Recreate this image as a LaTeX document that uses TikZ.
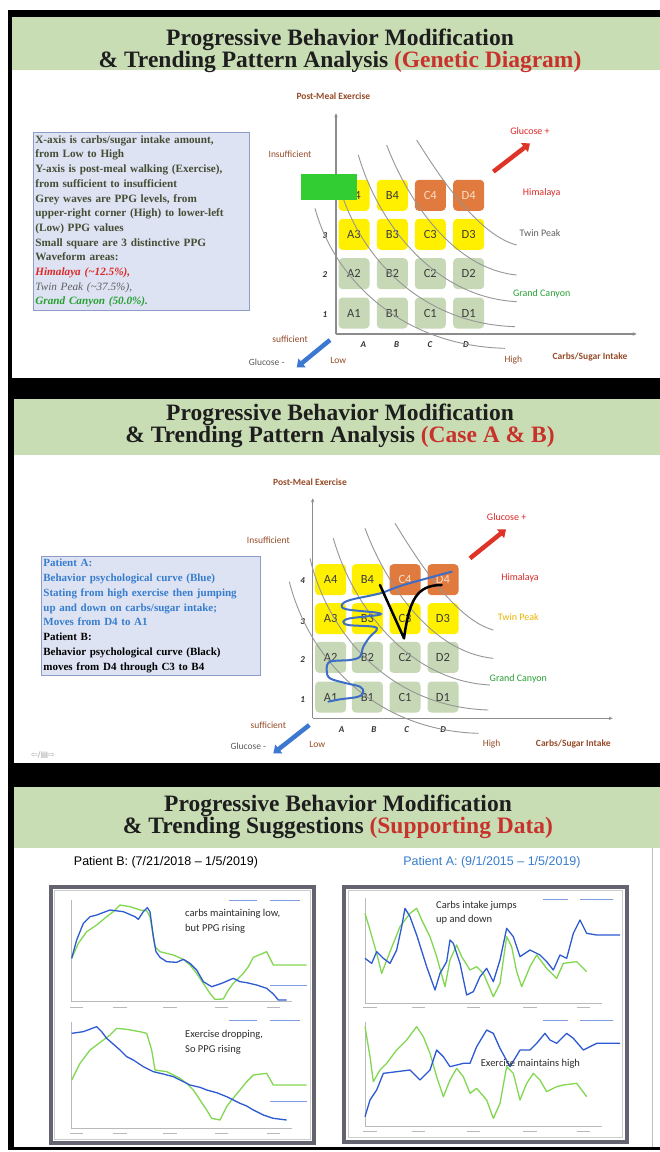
\documentclass[tikz,border=0pt]{standalone}
\usepackage{fontspec}
\setmainfont{Liberation Serif}
\newfontfamily\carl{Carlito}
\newfontfamily\arial{Liberation Sans}
\newfontfamily\dejavu{DejaVu Sans}
\usetikzlibrary{arrows.meta}
\definecolor{hdrgreen}{RGB}{201,221,181}
\definecolor{titlered}{RGB}{200,50,45}
\definecolor{titledark}{RGB}{30,30,30}
\definecolor{boxfill}{RGB}{221,227,243}
\definecolor{boxborder}{RGB}{140,158,200}
\definecolor{boxtext}{RGB}{68,78,52}
\definecolor{cellyellow}{RGB}{255,240,0}
\definecolor{cellorange}{RGB}{224,122,62}
\definecolor{cellgreen}{RGB}{199,216,182}
\definecolor{celltext}{RGB}{60,60,60}
\definecolor{orgtext}{RGB}{250,222,200}
\definecolor{wavegrey}{RGB}{150,150,150}
\definecolor{axisgrey}{RGB}{140,140,140}
\definecolor{brownlbl}{RGB}{150,75,40}
\definecolor{tickdark}{RGB}{50,50,50}
\definecolor{arrblue}{RGB}{60,120,210}
\definecolor{arrred}{RGB}{222,52,40}
\definecolor{himred}{RGB}{220,40,40}
\definecolor{twingrey}{RGB}{95,95,95}
\definecolor{twinyellow}{RGB}{232,180,0}
\definecolor{canyongreen}{RGB}{40,160,50}
\definecolor{brightgreen}{RGB}{50,205,50}
\definecolor{patblue}{RGB}{55,125,205}
\definecolor{squiggle}{RGB}{60,110,200}
\definecolor{chartblue}{RGB}{45,90,210}
\definecolor{chartgreen}{RGB}{130,215,80}
\definecolor{chaxisgrey}{RGB}{185,185,185}
\definecolor{framegrey}{RGB}{100,100,112}
\definecolor{notegrey}{RGB}{45,45,45}
\tikzset{
  cell/.style={rounded corners=4pt, minimum width=31pt, minimum height=31pt, inner sep=0pt, font=\carl\fontsize{12.5}{12.5}\selectfont, text=celltext},
  ylw/.style={cell, fill=cellyellow},
  org/.style={cell, fill=cellorange, text=orgtext},
  grn/.style={cell, fill=cellgreen},
  wave/.style={draw=wavegrey, line width=0.9pt},
  axisline/.style={draw=axisgrey, line width=1.3pt, -{Stealth[length=4pt,width=3.5pt]}},
  bigarrow/.style={line width=4.5pt, -{Triangle[length=7pt,width=11pt]}},
  axlbl/.style={font=\carl\bfseries\fontsize{9.5}{10}\selectfont, text=brownlbl},
  sidelbl/.style={font=\carl\fontsize{9.5}{10}\selectfont, text=brownlbl},
  tickl/.style={font=\carl\bfseries\itshape\fontsize{9}{9}\selectfont, text=tickdark},
  zone/.style={font=\carl\fontsize{10}{10}\selectfont},
  ttl/.style={align=center, font=\bfseries\fontsize{23.5}{22}\selectfont, text=titledark},
  cblue/.style={draw=chartblue, line width=1.3pt, line join=round},
  cgreen/.style={draw=chartgreen, line width=1.3pt, line join=round},
  chaxis/.style={draw=chaxisgrey, line width=0.6pt},
  ticktxt/.style={draw=chaxisgrey, line width=1.2pt},
  legtxt/.style={draw=chartblue!60, line width=1.2pt},
  chnote/.style={font=\carl\fontsize{10.5}{14.5}\selectfont, text=notegrey, align=left, anchor=north west, inner sep=0pt},
  chartframe/.style={draw=framegrey, line width=4pt},
}
\begin{document}
\begin{tikzpicture}[x=1pt,y=-1pt]
\useasboundingbox (0,0) rectangle (660,1152);
\fill[white] (0,0) rectangle (660,1152);
% ---------------- frames ----------------
\fill[black] (8,10) rectangle (660,1150);
\fill[hdrgreen] (12,17) rectangle (660,70);
\fill[white] (12,70) rectangle (660,378);
\fill[hdrgreen] (14,399) rectangle (660,455);
\fill[white] (14,455) rectangle (660,763);
\fill[hdrgreen] (14,787) rectangle (660,848);
\fill[white] (14,848) rectangle (660,1147);
\draw[gray!50, line width=0.6pt] (652,848) -- (652,1147);

% ---------------- titles ----------------
\node[ttl] (t1) at (340,50.5) {Progressive Behavior Modification\\\& Trending Pattern Analysis \textcolor{titlered}{(Genetic Diagram)}};
\node[ttl] (t2) at (340,426) {Progressive Behavior Modification\\\& Trending Pattern Analysis \textcolor{titlered}{(Case A \& B)}};
\node[ttl] (t3) at (338,817) {Progressive Behavior Modification\\\& Trending Suggestions \textcolor{titlered}{(Supporting Data)}};

% ---------------- panel 1 text box ----------------
\node[anchor=north west, draw=boxborder, line width=0.8pt, fill=boxfill, minimum width=216pt, minimum height=178pt, text width=212pt, inner xsep=2pt, inner ysep=1pt, align=left, font=\bfseries\fontsize{11.2}{14.7}\selectfont, text=boxtext] (box1) at (33,132) {%
X-axis is carbs/sugar intake amount,\\
from Low to High\\
Y-axis is post-meal walking (Exercise),\\
from sufficient to insufficient\\
Grey waves are PPG levels, from\\
upper-right corner (High) to lower-left\\
(Low) PPG values\\
Small square are 3 distinctive PPG\\
Waveform areas:\\
\textcolor{himred}{\itshape Himalaya (\textasciitilde 12.5\%),}\\
\textcolor{twingrey}{\mdseries\itshape Twin Peak (\textasciitilde 37.5\%),}\\
\textcolor{canyongreen}{\itshape Grand Canyon (50.0\%).}};

% ---------------- panel 1 chart ----------------
\begin{scope}[shift={(250,80)}, x=0.33333pt, y=-0.33333pt]
  \coordinate (p1o) at (258,762);
  \coordinate (p1yt) at (258,100);
  \coordinate (p1xr) at (1160,762);
  \draw[axisline] (p1o) -- (p1yt);
  \draw[axisline] (p1o) -- (p1xr);
  \node[axlbl] (p1ylab) at (250,50) {Post-Meal Exercise};
  \node[axlbl] (p1xlab) at (1020,832) {Carbs/Sugar Intake};
  \node[sidelbl] (p1ins) at (120,222) {Insufficient};
  \node[sidelbl] (p1suf) at (120,778) {sufficient};
  \node[sidelbl] (p1low) at (265,840) {Low};
  \node[sidelbl] (p1high) at (790,840) {High};
  \node[font=\carl\fontsize{9.5}{10}\selectfont, text=tickdark!80] (p1gm) at (50,848) {Glucose -};
  \node[tickl] (p1ta) at (340,795) {A};
  \node[tickl] (p1tb) at (440,795) {B};
  \node[tickl] (p1tc) at (540,795) {C};
  \node[tickl] (p1td) at (648,795) {D};
  \node[tickl] (p1t1) at (225,705) {1};
  \node[tickl] (p1t2) at (225,585) {2};
  \node[tickl] (p1t3) at (225,468) {3};
  % cells
  \node[ylw] (p1A4) at (312,346) {A4};
  \node[ylw] (p1B4) at (427,346) {B4};
  \node[org] (p1C4) at (541,346) {C4};
  \node[org] (p1D4) at (656,346) {D4};
  \node[ylw] (p1A3) at (312,463) {A3};
  \node[ylw] (p1B3) at (427,463) {B3};
  \node[ylw] (p1C3) at (541,463) {C3};
  \node[ylw] (p1D3) at (656,463) {D3};
  \node[grn] (p1A2) at (312,581) {A2};
  \node[grn] (p1B2) at (427,581) {B2};
  \node[grn] (p1C2) at (541,581) {C2};
  \node[grn] (p1D2) at (656,581) {D2};
  \node[grn] (p1A1) at (312,699) {A1};
  \node[grn] (p1B1) at (427,699) {B1};
  \node[grn] (p1C1) at (541,699) {C1};
  \node[grn] (p1D1) at (656,699) {D1};
  % waves
  \draw[wave] (500,180) .. controls (560,275) and (680,464) .. (800,495);
  \draw[wave] (410,195) .. controls (469,351) and (605,566) .. (800,585);
  \draw[wave] (325,225) .. controls (382,423) and (548,652) .. (800,665);
  \draw[wave] (260,290) .. controls (314,515) and (501,731) .. (795,740);
  \draw[wave] (195,385) .. controls (252,595) and (452,797) .. (765,805);
  % green marker square
  \node[fill=brightgreen, minimum width=56.7pt, minimum height=25.7pt, inner sep=0pt] (p1mark) at (237,321.5) {};
  % zone labels
  \node[zone, text=himred] (p1him) at (875,338) {Himalaya};
  \node[zone, text=twingrey] (p1twin) at (870,458) {Twin Peak};
  \node[zone, text=canyongreen] (p1can) at (875,640) {Grand Canyon};
  \node[zone, text=himred] (p1gp) at (840,152) {Glucose +};
  % big arrows
  \coordinate (p1ra) at (730,275);
  \coordinate (p1rb) at (840,190);
  \draw[bigarrow, arrred] (p1ra) -- (p1rb);
  \coordinate (p1ba) at (240,780);
  \coordinate (p1bb) at (140,862);
  \draw[bigarrow, arrblue] (p1ba) -- (p1bb);
\end{scope}

% ---------------- panel 2 text box ----------------
\node[anchor=north west, draw=boxborder, line width=0.8pt, fill=boxfill, minimum width=219pt, minimum height=119pt, text width=215pt, inner xsep=2pt, inner ysep=1pt, align=left, font=\bfseries\fontsize{11}{14.8}\selectfont, text=patblue] (box2) at (41,556) {%
Patient A:\\
Behavior psychological curve (Blue)\\
Stating from high exercise then jumping\\
up and down on carbs/sugar intake;\\
Moves from D4 to A1\\
\textcolor{black}{Patient B:}\\
\textcolor{black}{Behavior psychological curve (Black)}\\
\textcolor{black}{moves from D4 through C3 to B4}};
\node[font=\dejavu\fontsize{8}{8}\selectfont, text=gray!70] (nav) at (43,755) {⇦/▤⇨};

% ---------------- panel 2 chart ----------------
\begin{scope}[shift={(230,470)}, x=0.33333pt, y=-0.33333pt]
  \coordinate (p2o) at (248,745);
  \coordinate (p2yt) at (248,85);
  \coordinate (p2xr) at (1148,745);
  \draw[axisline] (p2o) -- (p2yt);
  \draw[axisline] (p2o) -- (p2xr);
  \node[axlbl] (p2ylab) at (240,38) {Post-Meal Exercise};
  \node[axlbl] (p2xlab) at (1030,822) {Carbs/Sugar Intake};
  \node[sidelbl] (p2ins) at (115,210) {Insufficient};
  \node[sidelbl] (p2suf) at (115,765) {sufficient};
  \node[sidelbl] (p2low) at (262,822) {Low};
  \node[sidelbl] (p2high) at (785,822) {High};
  \node[font=\carl\fontsize{9.5}{10}\selectfont, text=tickdark!80] (p2gm) at (55,830) {Glucose -};
  \node[tickl] (p2ta) at (335,780) {A};
  \node[tickl] (p2tb) at (432,780) {B};
  \node[tickl] (p2tc) at (530,780) {C};
  \node[tickl] (p2td) at (640,780) {D};
  \node[tickl] (p2t1) at (218,690) {1};
  \node[tickl] (p2t2) at (218,570) {2};
  \node[tickl] (p2t3) at (218,455) {3};
  \node[tickl] (p2t4) at (218,333) {4};
  % cells
  \node[ylw] (p2A4) at (302,329) {A4};
  \node[ylw] (p2B4) at (412,329) {B4};
  \node[org] (p2C4) at (525,329) {C4};
  \node[org] (p2D4) at (639,329) {D4};
  \node[ylw] (p2A3) at (302,446) {A3};
  \node[ylw] (p2B3) at (412,446) {B3};
  \node[ylw] (p2C3) at (525,446) {C3};
  \node[ylw] (p2D3) at (639,446) {D3};
  \node[grn] (p2A2) at (302,562) {A2};
  \node[grn] (p2B2) at (412,562) {B2};
  \node[grn] (p2C2) at (525,562) {C2};
  \node[grn] (p2D2) at (639,562) {D2};
  \node[grn] (p2A1) at (302,681) {A1};
  \node[grn] (p2B1) at (412,681) {B1};
  \node[grn] (p2C1) at (525,681) {C1};
  \node[grn] (p2D1) at (639,681) {D1};
  % waves
  \draw[wave] (495,160) .. controls (554,256) and (672,448) .. (790,480);
  \draw[wave] (405,175) .. controls (463,331) and (598,546) .. (790,565);
  \draw[wave] (310,205) .. controls (366,403) and (531,632) .. (780,645);
  \draw[wave] (240,265) .. controls (294,493) and (481,711) .. (775,720);
  \draw[wave] (178,335) .. controls (235,563) and (433,781) .. (745,790);
  % patient curves
  \draw[squiggle, line width=2pt, line cap=round] plot[smooth, tension=0.55] coordinates {(665,305) (520,345) (450,370) (360,390) (335,405) (350,418) (440,428) (445,435) (360,445) (340,455) (355,465) (430,470) (440,480) (420,500) (400,530) (390,560) (360,570) (300,575) (290,600) (300,625) (350,640) (390,650) (400,665) (385,680) (330,688) (295,695)};
  \draw[black, line width=2.5pt, line cap=round, line join=round] (450,345) -- (522,505) .. controls (538,390) and (560,345) .. (635,345);
  % zone labels
  \node[zone, text=himred] (p2him) at (870,322) {Himalaya};
  \node[zone, text=twinyellow] (p2twin) at (865,440) {Twin Peak};
  \node[zone, text=canyongreen] (p2can) at (865,625) {Grand Canyon};
  \node[zone, text=himred] (p2gp) at (830,140) {Glucose +};
  \coordinate (p2ra) at (720,265);
  \coordinate (p2rb) at (828,178);
  \draw[bigarrow, arrred] (p2ra) -- (p2rb);
  \coordinate (p2ba) at (238,765);
  \coordinate (p2bb) at (130,850);
  \draw[bigarrow, arrblue] (p2ba) -- (p2bb);
\end{scope}

% ---------------- panel 3 ----------------
\node[font=\arial\fontsize{12.5}{13}\selectfont, text=black] (pB) at (166,862) {Patient B: (7/21/2018 – 1/5/2019)};
\node[font=\arial\fontsize{12.5}{13}\selectfont, text=patblue] (pA) at (492,862) {Patient A: (9/1/2015 – 1/5/2019)};

% chart B
\begin{scope}[shift={(40,870)}, x=0.33333pt, y=-0.33333pt]
  \fill[white] (32,50) rectangle (822,820);
  \draw[chartframe] (32,50) rectangle (822,820);
  \draw[gray!40, line width=0.6pt] (44,62) rectangle (810,808);
  % top sub chart
  \draw[chaxis] (95,90) -- (95,395) -- (755,395);
  \foreach \tx in {110,240,390,545,700} \draw[ticktxt] (\tx-20,412) -- (\tx+20,412);
  \draw[legtxt] (568,92) -- (650,92);
  \draw[legtxt] (690,92) -- (780,92);
  \draw[cgreen] plot coordinates {(95,265) (115,220) (140,185) (170,165) (200,140) (220,125) (240,105) (270,110) (300,120) (320,122) (330,140) (345,230) (360,245) (400,255) (430,268) (450,285) (470,310) (490,340) (510,370) (525,388) (550,387) (565,360) (580,340) (610,310) (625,290) (640,262) (680,245) (700,285) (800,285)};
  \draw[cblue] plot coordinates {(95,265) (110,210) (130,160) (150,140) (170,135) (210,120) (250,125) (285,140) (295,148) (310,125) (322,113) (330,125) (340,200) (348,245) (360,262) (380,275) (410,277) (430,268) (450,280) (470,300) (490,335) (515,350) (545,340) (580,325) (600,335) (620,338) (650,345) (680,355) (700,372) (715,390) (740,390)};
  \draw[chartblue!60, line width=0.6pt] (690,345) -- (800,345);
  \node[chnote] (nB1) at (435,118) {carbs maintaining low,\\but PPG rising};
  % bottom sub chart
  \draw[chaxis] (95,455) -- (95,775) -- (755,775);
  \foreach \tx in {110,240,390,545,700} \draw[ticktxt] (\tx-20,790) -- (\tx+20,790);
  \draw[legtxt] (568,452) -- (650,452);
  \draw[legtxt] (690,452) -- (780,452);
  \draw[cgreen] plot coordinates {(95,630) (120,580) (150,540) (170,525) (190,510) (210,495) (230,475) (260,478) (300,485) (320,490) (335,540) (345,600) (380,605) (420,625) (440,640) (460,660) (480,690) (500,720) (515,745) (540,750) (560,710) (575,690) (600,660) (620,635) (640,615) (680,610) (700,645) (800,645)};
  \draw[cblue] plot coordinates {(95,490) (130,485) (170,470) (185,485) (200,505) (240,540) (260,560) (280,570) (310,590) (340,605) (370,612) (400,620) (430,635) (450,645) (480,652) (500,660) (530,668) (560,680) (600,700) (620,708) (640,720) (670,735) (700,745) (740,750)};
  \draw[chartblue!60, line width=0.6pt] (690,695) -- (800,695);
  \node[chnote] (nB2) at (435,480) {Exercise dropping,\\So PPG rising};
\end{scope}

% chart A
\begin{scope}[shift={(330,870)}, x=0.33333pt, y=-0.33333pt]
  \fill[white] (42,50) rectangle (890,815);
  \draw[chartframe] (42,50) rectangle (890,815);
  \draw[gray!40, line width=0.6pt] (54,62) rectangle (878,803);
  % top sub chart
  \draw[chaxis] (105,85) -- (105,400) -- (815,400);
  \foreach \tx in {120,265,430,600,760} \draw[ticktxt] (\tx-20,412) -- (\tx+20,412);
  \draw[legtxt] (640,88) -- (715,88);
  \draw[legtxt] (750,88) -- (850,88);
  \draw[cgreen] plot coordinates {(105,130) (120,180) (140,250) (155,310) (180,245) (210,170) (240,130) (260,115) (280,160) (300,200) (320,260) (345,350) (360,270) (380,225) (395,260) (420,300) (440,290) (460,310) (490,380) (510,340) (530,200) (545,230) (560,305) (575,350) (600,290) (620,255) (650,295) (680,325) (700,280) (740,275) (770,305)};
  \draw[cblue] plot coordinates {(105,265) (125,280) (140,245) (160,265) (180,280) (200,240) (215,170) (225,115) (240,140) (260,195) (290,290) (315,360) (330,310) (350,275) (360,210) (370,220) (390,280) (410,375) (430,365) (450,320) (470,295) (490,335) (510,270) (530,175) (550,200) (570,260) (600,240) (630,255) (650,275) (670,300) (690,255) (710,265) (730,190) (750,150) (770,190) (800,195) (870,195)};
  \node[chnote] (nA1) at (318,92) {Carbs intake jumps\\up and down};
  % bottom sub chart
  \draw[chaxis] (105,455) -- (105,770) -- (815,770);
  \foreach \tx in {120,265,430,600,760} \draw[ticktxt] (\tx-20,785) -- (\tx+20,785);
  \draw[legtxt] (640,452) -- (715,452);
  \draw[legtxt] (750,452) -- (850,452);
  \draw[cgreen] plot coordinates {(105,470) (120,560) (130,635) (150,600) (170,580) (200,540) (230,510) (260,470) (280,500) (300,550) (320,620) (340,680) (360,630) (380,595) (400,620) (420,670) (440,655) (470,690) (490,745) (510,700) (530,590) (550,610) (570,690) (590,640) (610,610) (630,630) (650,665) (680,650) (700,645) (740,640) (770,680)};
  \draw[cblue] plot coordinates {(105,740) (120,690) (140,660) (160,610) (200,605) (240,600) (270,630) (300,600) (320,540) (340,560) (360,590) (400,580) (420,580) (440,530) (470,480) (490,490) (510,535) (540,590) (570,540) (600,540) (620,520) (645,490) (660,510) (680,520) (710,490) (730,505) (760,540) (800,520) (870,520)};
  \node[chnote] (nA2) at (452,568) {Exercise maintains high};
\end{scope}
\end{tikzpicture}
\end{document}
